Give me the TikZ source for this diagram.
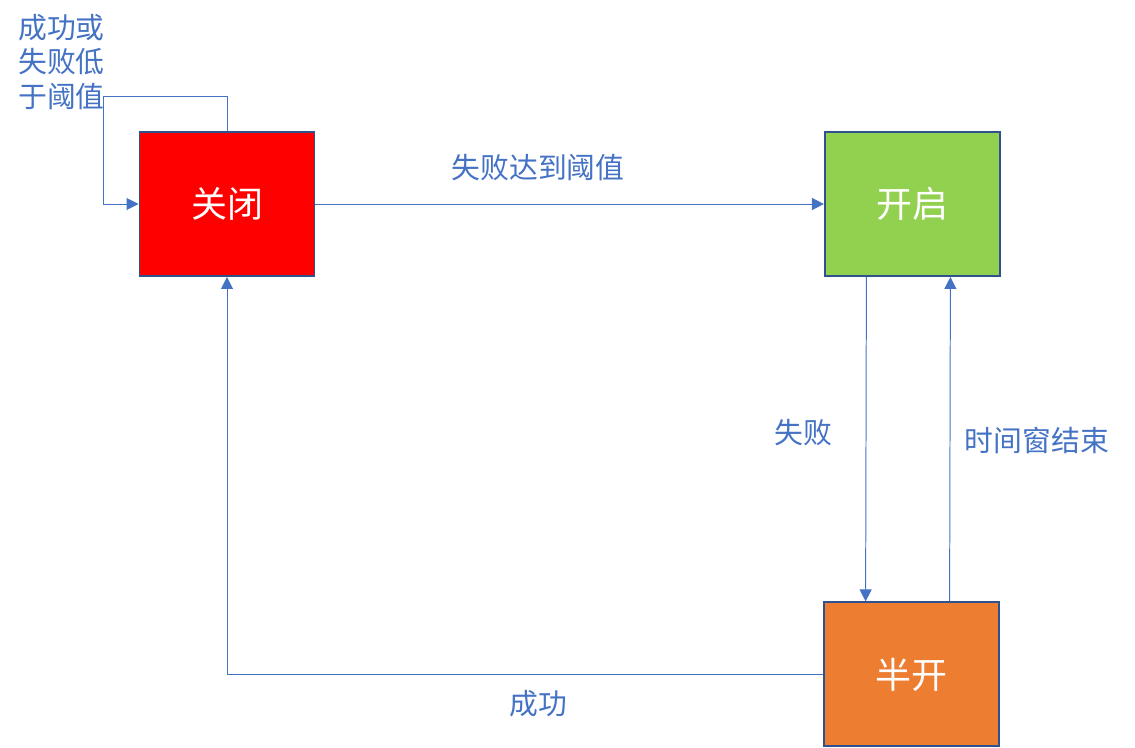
\documentclass[tikz,border=0pt]{standalone}
\usepackage{fontspec}
\setmainfont{Noto Sans CJK SC}
\usetikzlibrary{arrows.meta}

\definecolor{edgeblue}{HTML}{4472C4}
\definecolor{boxline}{HTML}{2F528F}
\definecolor{closedred}{HTML}{FF0000}
\definecolor{opengreen}{HTML}{92D050}
\definecolor{halforange}{HTML}{ED7D31}

\begin{document}
\begin{tikzpicture}[>={Triangle[length=3mm, width=3mm]},
  state/.style={draw=boxline, line width=1.4pt, minimum width=4.375cm, minimum height=3.6cm,
    inner sep=0pt, text=white, font=\fontsize{25.6}{30}\selectfont},
  link/.style={draw=edgeblue, line width=0.7pt, ->, edgeblue},
  tag/.style={text=edgeblue, font=\fontsize{20.5}{24.5}\selectfont, inner sep=0pt}]
  \useasboundingbox (0,0) rectangle (28.375,-18.675);
  % the three states of the breaker
  \node[state, fill=closedred]  (guan) at (5.675,-5.1)   {关闭};
  \node[state, fill=opengreen]  (kai)  at (22.81,-5.1)   {开启};
  \node[state, fill=halforange] (ban)  at (22.79,-16.86) {半开};
  % corner of the self loop
  \coordinate (loop) at (2.575,-2.4);
  % labels
  \node[tag, anchor=west, align=left] (tLoop) at (0.45,-1.55) {成功或\\失败低\\于阈值};
  \node[tag] (tFail)  at (13.45,-4.2)    {失败达到阈值};
  \node[tag] (tDown)  at (20.075,-10.825) {失败};
  \node[tag] (tUp)    at (25.925,-11.0)  {时间窗结束};
  \node[tag] (tBack)  at (13.45,-17.6)   {成功};
  % transitions
  \draw[link] (guan.north) |- (loop) |- (guan.west);
  \draw[link] (guan.east) -- (kai.west);
  \draw[link] ([xshift=-1.15cm]kai.south) -- ([xshift=-1.15cm]ban.north);
  \draw[link] ([xshift=0.95cm]ban.north) -- ([xshift=0.95cm]kai.south);
  \draw[link] (ban.west) -| (guan.south);
\end{tikzpicture}
\end{document}
